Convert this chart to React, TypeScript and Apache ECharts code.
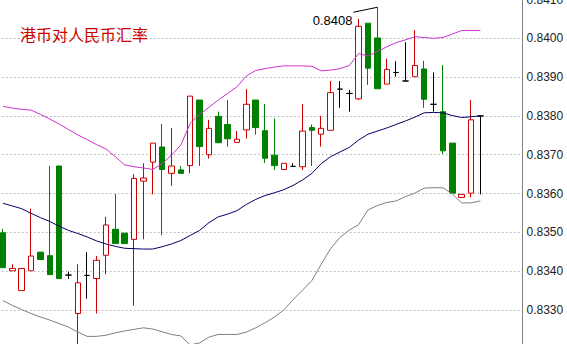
import React, { useEffect, useRef } from "react";
import * as echarts from "echarts";

const categories = Array.from({ length: 56 }, (_, i) => String(i + 1));

const opens = [
  0.83499, 0.83401, 0.8335, 0.83401, 0.83449, 0.8344, 0.83671, 0.8339, 0.83291, 0.83389,
  0.83381, 0.83441, 0.83508, 0.83498, 0.83482, 0.83632, 0.83681, 0.8372, 0.83652, 0.83661,
  0.83672, 0.83841, 0.837, 0.83799, 0.83778, 0.83732, 0.83764, 0.83841, 0.83762, 0.83699,
  0.83662, 0.8367, 0.83669, 0.8377, 0.83753, 0.83763, 0.83869, 0.83858, 0.83844, 0.84039,
  0.84001, 0.83882, 0.83912, 0.8389, 0.83901, 0.83921, 0.8383, 0.83811, 0.8373, 0.8359,
  0.83601, 0.838,
];
const closes = [
  0.83409, 0.83407, 0.83407, 0.83439, 0.8343, 0.83391, 0.83381, 0.8339, 0.8337, 0.83389,
  0.83428, 0.83519, 0.83471, 0.83471, 0.83639, 0.8364, 0.8373, 0.83662, 0.83671, 0.83652,
  0.83851, 0.83721, 0.83768, 0.83731, 0.83741, 0.8374, 0.8383, 0.8377, 0.83691, 0.83672,
  0.83678, 0.8367, 0.83761, 0.83763, 0.83768, 0.8386, 0.83869, 0.83858, 0.84031, 0.83923,
  0.8387, 0.8392, 0.83912, 0.8389, 0.8393, 0.83843, 0.8383, 0.8371, 0.83601, 0.83598,
  0.8379, 0.838,
];
const lows = [
  0.83409, 0.83401, 0.8335, 0.83401, 0.8343, 0.83391, 0.83381, 0.8338, 0.83205, 0.83329,
  0.83291, 0.83392, 0.83471, 0.83471, 0.83311, 0.83482, 0.83598, 0.83493, 0.8362, 0.83652,
  0.83652, 0.83671, 0.8369, 0.83731, 0.83721, 0.83732, 0.83742, 0.83752, 0.83679, 0.83661,
  0.83662, 0.8367, 0.83661, 0.83671, 0.83721, 0.83763, 0.83821, 0.83811, 0.83841, 0.8388,
  0.8387, 0.83882, 0.83901, 0.8389, 0.83901, 0.83821, 0.83811, 0.83702, 0.83601, 0.8359,
  0.8359, 0.83598,
];
const highs = [
  0.83509, 0.83418, 0.83407, 0.83561, 0.83449, 0.83671, 0.83671, 0.83399, 0.83418, 0.83449,
  0.83439, 0.8354, 0.83599, 0.83498, 0.8365, 0.83678, 0.8373, 0.83779, 0.83769, 0.83671,
  0.83851, 0.83841, 0.8379, 0.83811, 0.83841, 0.83761, 0.83869, 0.83841, 0.83831, 0.83793,
  0.83678, 0.83678, 0.83831, 0.83778, 0.838, 0.8389, 0.8389, 0.83867, 0.8405, 0.84039,
  0.8408, 0.83948, 0.83941, 0.8399, 0.84021, 0.83942, 0.83912, 0.83931, 0.8373, 0.83598,
  0.83841, 0.838,
];

const upperBand = [
  0.83825, 0.8382, 0.83817, 0.83815, 0.83804, 0.83792, 0.83779, 0.83765, 0.83751, 0.83739,
  0.83726, 0.83715, 0.83695, 0.83674, 0.83669, 0.83666, 0.83662, 0.83677, 0.83699, 0.83725,
  0.83781, 0.83804, 0.83822, 0.83841, 0.83858, 0.83875, 0.83903, 0.83917, 0.83922, 0.83926,
  0.83929, 0.83929, 0.83929, 0.83928, 0.83916, 0.83918, 0.83922, 0.8393, 0.83961, 0.83954,
  0.83966, 0.83978, 0.83989, 0.83996, 0.84004, 0.84002, 0.84, 0.84002, 0.84011, 0.8402,
  0.8402, 0.8402,
];
const middleBand = [
  0.83575, 0.83568, 0.83561, 0.83549, 0.83538, 0.83528, 0.83516, 0.83505, 0.83497, 0.83488,
  0.83478, 0.8347, 0.83464, 0.83459, 0.83458, 0.83457, 0.83457, 0.83463, 0.8347, 0.83479,
  0.83492, 0.83505, 0.83525, 0.8354, 0.83547, 0.83556, 0.83572, 0.83585, 0.83595, 0.83602,
  0.8361, 0.83621, 0.83635, 0.83652, 0.83677, 0.83695, 0.83707, 0.83719, 0.83738, 0.83753,
  0.83761, 0.83769, 0.83778, 0.83787, 0.83797, 0.83808, 0.83809, 0.83808, 0.83801, 0.83796,
  0.83798, 0.838,
];
const lowerBand = [
  0.83324, 0.83312, 0.83301, 0.83291, 0.83282, 0.83274, 0.83265, 0.83256, 0.83243, 0.83232,
  0.83232, 0.83235, 0.83241, 0.83246, 0.8325, 0.83254, 0.83251, 0.83244, 0.83237, 0.83233,
  0.8321, 0.83215, 0.8323, 0.83237, 0.83237, 0.83237, 0.83243, 0.83254, 0.83267, 0.83282,
  0.833, 0.83327, 0.83351, 0.83376, 0.83418, 0.83458, 0.83487, 0.83506, 0.8352, 0.83558,
  0.83569, 0.83577, 0.83581, 0.83592, 0.83601, 0.83614, 0.83615, 0.83615, 0.83599, 0.83576,
  0.83576, 0.83581,
];

const title = "港币对人民币汇率";
const peakIndex = 40;
const peakLabel = "0.8408";
const firstLabelledTick = 0.833;

const RED = "#cc0000";
const GREEN = "#008000";

export default function App() {
  const ref = useRef<HTMLDivElement>(null);

  useEffect(() => {
    document.body.style.margin = "0";
    const chart = echarts.init(ref.current!, null, { renderer: "svg" });

    const candleData = opens.map((o, i) => {
      const item: any = { value: [o, closes[i], lows[i], highs[i]] };
      if (o === closes[i]) {
        item.itemStyle = {
          color: "#000",
          color0: "#000",
          borderColor: "#000",
          borderColor0: "#000",
        };
      }
      return item;
    });

    const option: any = {
      animation: false,
      backgroundColor: "#ffffff",
      title: {
        text: title,
        left: 20,
        top: 26,
        padding: 0,
        textStyle: {
          color: RED,
          fontSize: 16,
          fontWeight: "normal",
          fontFamily: "Noto Sans CJK SC",
        },
      },
      grid: {
        left: -1.7,
        right: 44.5,
        top: -0.5,
        bottom: -4.8,
        containLabel: false,
        outerBoundsMode: "none",
      },
      xAxis: {
        type: "category",
        data: categories,
        boundaryGap: true,
        show: false,
      },
      yAxis: {
        type: "value",
        position: "right",
        min: 0.832,
        max: 0.841,
        interval: 0.001,
        scale: true,
        axisLine: { show: true, lineStyle: { color: "#808080", width: 1 } },
        axisTick: { show: false },
        axisLabel: {
          margin: 4,
          color: "#222",
          fontSize: 12,
          fontFamily: "Liberation Sans, Arial, sans-serif",
          padding: [6, 0, 0, 0],
          formatter: (v: number) => (v < firstLabelledTick - 0.0005 ? "" : v.toFixed(4)),
        },
        splitLine: {
          show: true,
          lineStyle: { color: "#8a8a8a", type: [1, 3], width: 1 },
        },
      },
      series: [
        {
          type: "candlestick",
          data: candleData,
          barWidth: 6,
          itemStyle: {
            color: "#ffffff",
            color0: GREEN,
            borderColor: RED,
            borderColor0: GREEN,
            borderWidth: 1,
          },
        },
        {
          type: "line",
          data: upperBand,
          symbol: "none",
          lineStyle: { color: "#cc33cc", width: 1 },
          z: 3,
        },
        {
          type: "line",
          data: middleBand,
          symbol: "none",
          lineStyle: { color: "#000066", width: 1 },
          z: 3,
        },
        {
          type: "line",
          data: lowerBand,
          symbol: "none",
          lineStyle: { color: "#808080", width: 1 },
          z: 3,
        },
      ],
    };

    chart.setOption(option);

    const pt = chart.convertToPixel({ gridIndex: 0 }, [peakIndex, highs[peakIndex]]) as number[];
    if (pt) {
      const [px, py] = pt;
      chart.setOption({
        graphic: [
          {
            type: "polyline",
            shape: { points: [[px - 24, py + 5], [px, py]] },
            style: { stroke: "#000", lineWidth: 1, fill: null },
            z: 10,
          },
          {
            type: "text",
            x: px - 25,
            y: py + 13.5,
            style: {
              text: peakLabel,
              fill: "#000",
              fontSize: 13,
              fontFamily: "Liberation Sans, Arial, sans-serif",
              textAlign: "right",
              textVerticalAlign: "middle",
            },
            z: 10,
          },
        ],
      });
    }

    return () => chart.dispose();
  }, []);

  return (
    <div
      ref={ref}
      style={{ position: "fixed", left: 0, top: 0, width: 567, height: 344, background: "#fff" }}
    />
  );
}
